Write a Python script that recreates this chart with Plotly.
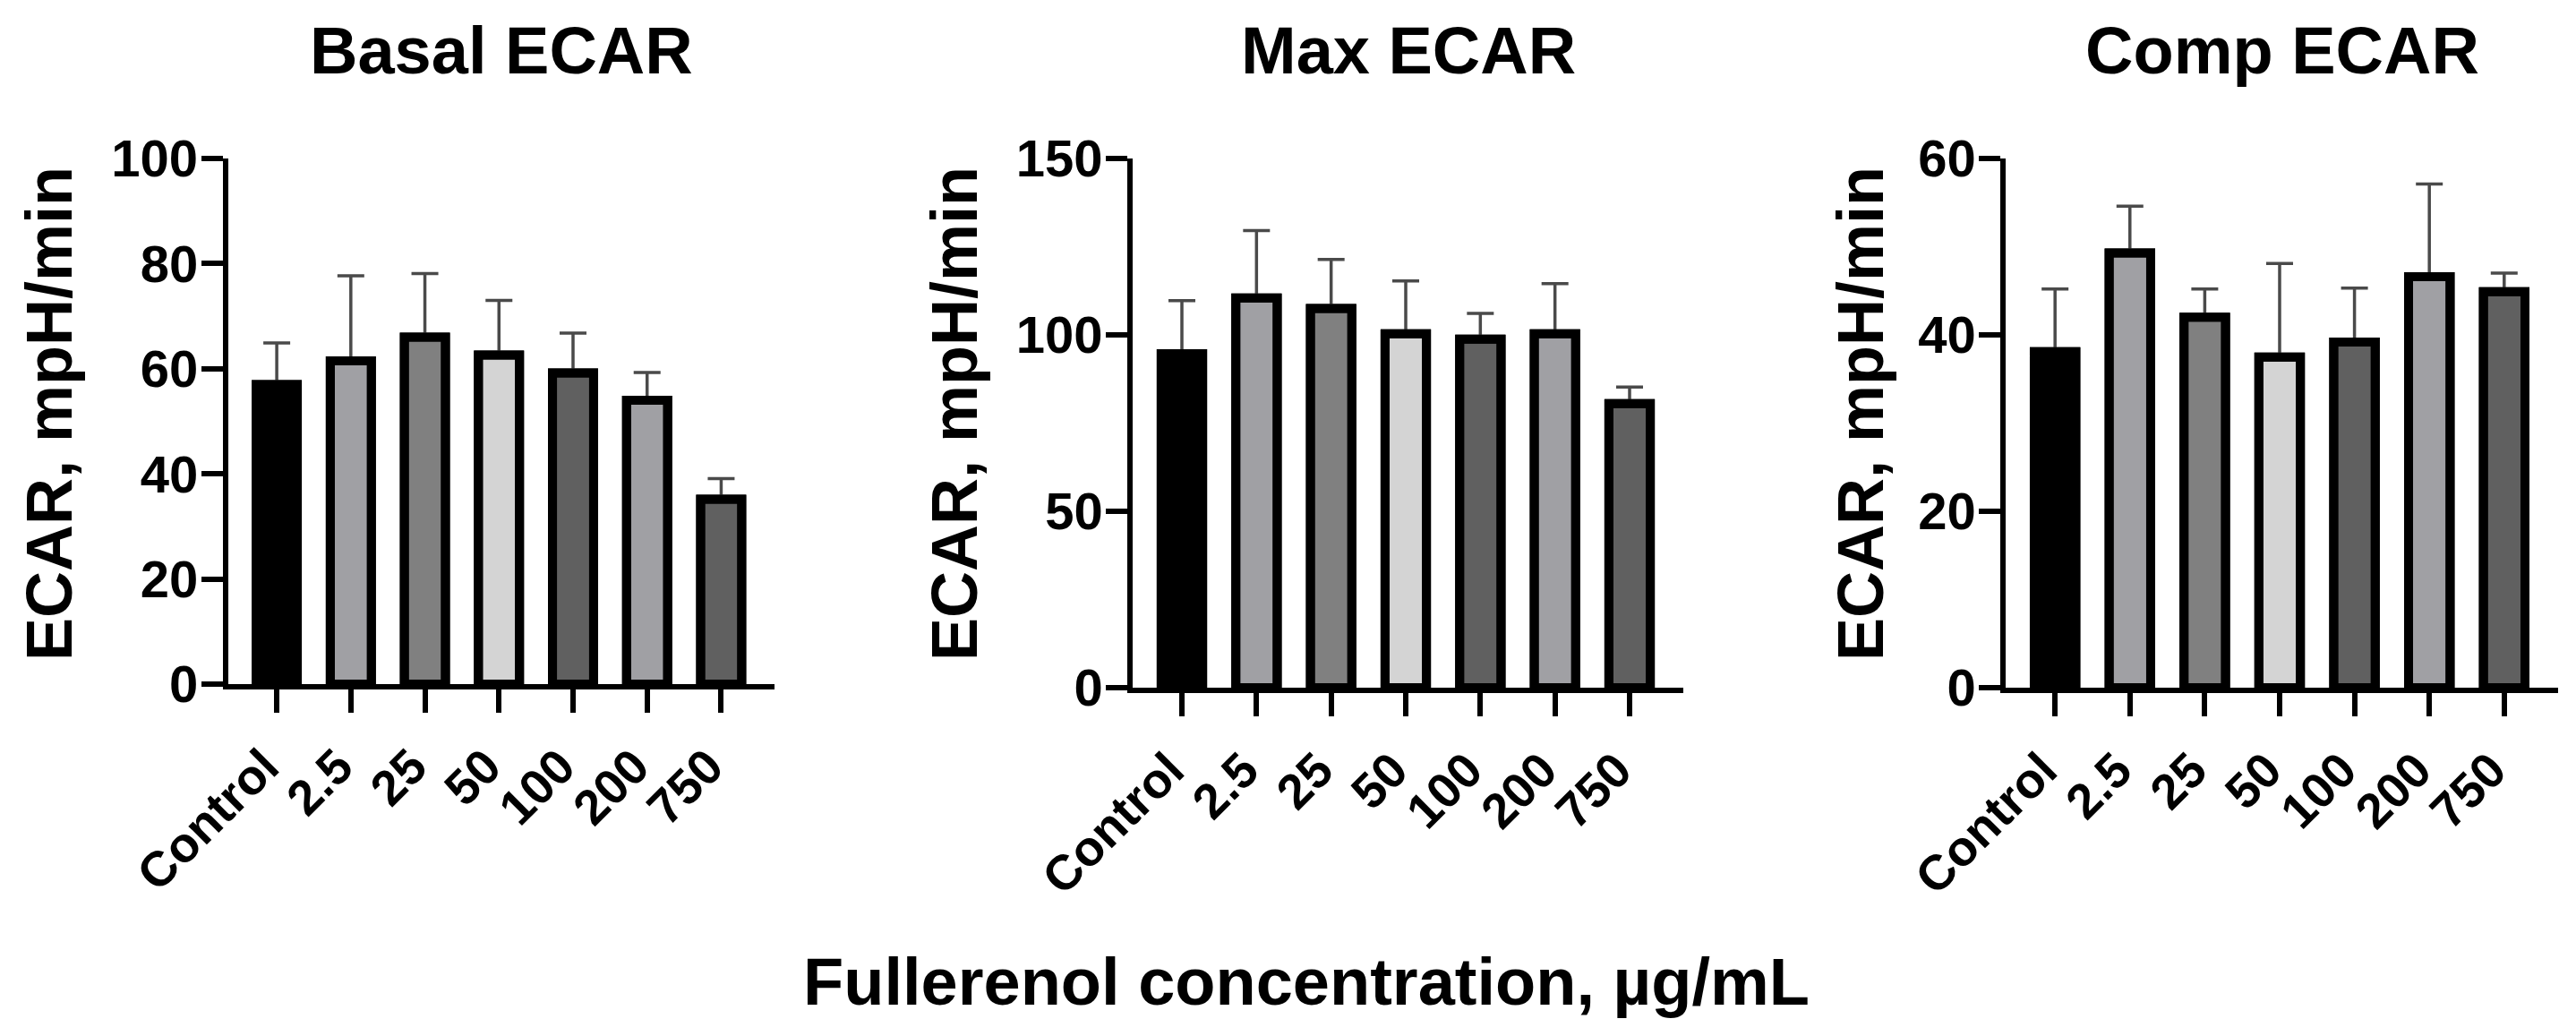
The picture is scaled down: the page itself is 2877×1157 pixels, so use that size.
import plotly.graph_objects as go

# ---------------- data ----------------
categories = ["Control", "2.5", "25", "50", "100", "200", "750"]

basal_mean = [57.0, 61.5, 66.0, 62.6, 59.2, 54.0, 35.2]
basal_sd = [7.9, 16.2, 12.1, 10.4, 7.6, 5.3, 3.9]

max_mean = [94.7, 110.5, 107.5, 100.3, 98.8, 100.3, 80.5]
max_sd = [15.0, 19.1, 13.9, 15.0, 7.3, 14.2, 4.7]

comp_mean = [38.1, 49.3, 42.0, 37.5, 39.2, 46.6, 44.9]
comp_sd = [7.1, 5.3, 3.2, 10.6, 6.1, 10.5, 2.1]

panel_titles = ["Basal ECAR", "Max ECAR", "Comp ECAR"]
y_ranges = [[0, 100], [0, 150], [0, 60]]
y_ticks = [[0, 20, 40, 60, 80, 100], [0, 50, 100, 150], [0, 20, 40, 60]]
y_title = "ECAR, mpH/min"
x_title = "Fullerenol concentration, µg/mL"

bar_colors = ["#000000", "#a0a0a4", "#808080", "#d4d4d4", "#606060", "#a0a0a4", "#606060"]

# ---------------- layout geometry ----------------
# page body has an 8px margin, so the figure is 16px smaller and all
# positions below are given in screen pixels minus that offset
OFF = 8
W, H = 2877 - 2 * OFF, 1157 - 2 * OFF
FONT = "Arial, 'Liberation Sans', sans-serif"


def px_x(v):
    return (v - OFF) / W


def px_y(v):
    return 1 - (v - OFF) / H


x_domains_px = [(254.5, 865), (1265, 1880), (2240, 2857)]
y_domains_px = [(177, 764), (177, 768), (177, 768)]
ytitle_x_px = [55, 1066, 2078]

fig = go.Figure()

series = [(basal_mean, basal_sd), (max_mean, max_sd), (comp_mean, comp_sd)]
for i, (m, sd) in enumerate(series):
    sfx = "" if i == 0 else str(i + 1)
    # filled bars with upward SD error bars
    fig.add_trace(go.Bar(
        x=categories, y=m,
        xaxis="x" + sfx, yaxis="y" + sfx,
        width=0.555,
        marker=dict(color=bar_colors, line=dict(color="#000000", width=10)),
        error_y=dict(type="data", array=sd, arrayminus=[0] * len(sd), symmetric=False,
                     color="#4a4a4a", thickness=3.5, width=15),
        showlegend=False,
    ))
    # outline redrawn on top so the error bar base sits under the bar border
    fig.add_trace(go.Bar(
        x=categories, y=m,
        xaxis="x" + sfx, yaxis="y" + sfx,
        width=0.555,
        marker=dict(color="rgba(0,0,0,0)", line=dict(color="#000000", width=10)),
        showlegend=False, hoverinfo="skip",
    ))

layout = dict(
    width=W, height=H,
    margin=dict(l=0, r=0, t=0, b=0, autoexpand=False),
    paper_bgcolor="white", plot_bgcolor="white",
    barmode="overlay",
)

annotations = []
for i in range(3):
    sfx = "" if i == 0 else str(i + 1)
    x0, x1 = x_domains_px[i]
    yt, yb = y_domains_px[i]
    xd = [px_x(x0), px_x(x1)]
    yd = [px_y(yb), px_y(yt)]
    layout["xaxis" + sfx] = dict(
        domain=xd, anchor="y" + sfx, automargin=False,
        type="category", range=[-0.66, 6.72],
        showline=True, linecolor="black", linewidth=5.5,
        ticks="outside", ticklen=26, tickwidth=5.5, tickcolor="black",
        tickangle=-45, ticklabelshift=-14, ticklabelstandoff=6,
        tickfont=dict(family=FONT, size=55, color="black", weight="bold"),
        showgrid=False, zeroline=False, fixedrange=True,
    )
    layout["yaxis" + sfx] = dict(
        domain=yd, anchor="x" + sfx, automargin=False,
        range=y_ranges[i], tickvals=y_ticks[i],
        showline=True, linecolor="black", linewidth=5.5,
        ticks="outside", ticklen=24, tickwidth=5.5, tickcolor="black",
        ticklabelstandoff=-8,
        tickfont=dict(family=FONT, size=58, color="black", weight="bold"),
        showgrid=False, zeroline=False, fixedrange=True,
    )
    annotations.append(dict(
        text=panel_titles[i], xref="paper", yref="paper",
        x=px_x((x0 + x1) / 2), y=px_y(56), xanchor="center", yanchor="middle",
        showarrow=False, font=dict(family=FONT, size=74, color="black", weight="bold"),
    ))
    annotations.append(dict(
        text=y_title, xref="paper", yref="paper", textangle=-90,
        x=px_x(ytitle_x_px[i]), y=px_y(462), xanchor="center", yanchor="middle",
        showarrow=False, font=dict(family=FONT, size=72, color="black", weight="bold"),
    ))

annotations.append(dict(
    text=x_title, xref="paper", yref="paper",
    x=px_x(1459.5), y=px_y(1096), xanchor="center", yanchor="middle",
    showarrow=False, font=dict(family=FONT, size=74, color="black", weight="bold"),
))
layout["annotations"] = annotations

fig.update_layout(**layout)
fig.write_html("out.html")
